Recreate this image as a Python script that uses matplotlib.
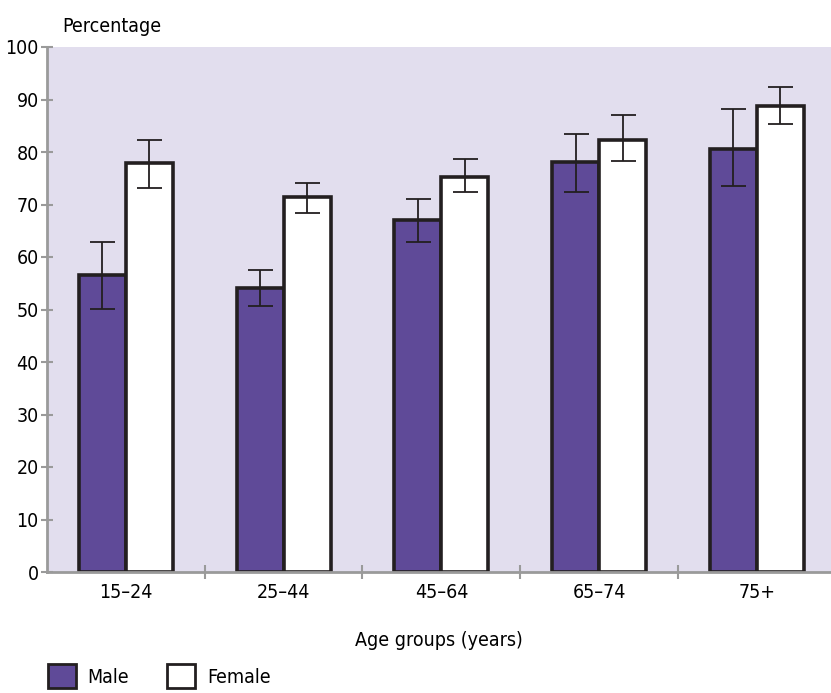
import numpy as np
import matplotlib.pyplot as plt
from matplotlib.patches import Patch

plt.rcParams['font.family'] = ['DejaVu Sans']
plt.rcParams['font.stretch'] = 'condensed'

age_groups = ['15–24', '25–44', '45–64', '65–74', '75+']
male = [56.6, 54.1, 67.0, 78.1, 80.6]
male_low = [50.1, 50.6, 62.9, 72.4, 73.5]
male_high = [62.9, 57.6, 71.0, 83.4, 88.2]
female = [77.9, 71.4, 75.2, 82.3, 88.8]
female_low = [73.1, 68.4, 72.4, 78.3, 85.3]
female_high = [82.3, 74.1, 78.7, 87.0, 92.4]

MALE_COLOR = '#5f4a98'
EDGE = '#231f20'
BG = '#e2deee'
AXIS_GREY = '#9a9a9a'
FS = 14

fig = plt.figure(figsize=(8.31, 6.93), dpi=100)
ax = fig.add_axes([47 / 831, 1 - 572 / 693, 1 - 47 / 831, 525 / 693])
ax.set_facecolor(BG)

x = np.arange(len(age_groups))
w = 0.298

male = np.array(male)
female = np.array(female)
m_err = [male - np.array(male_low), np.array(male_high) - male]
f_err = [female - np.array(female_low), np.array(female_high) - female]

ax.bar(x - w / 2, male, w, color=MALE_COLOR, edgecolor=EDGE, linewidth=2.6, zorder=2)
ax.bar(x + w / 2, female, w, color='white', edgecolor=EDGE, linewidth=2.6, zorder=2)
ax.errorbar(x - w / 2, male, yerr=m_err, fmt='none', ecolor=EDGE, elinewidth=1.3,
            capsize=9, capthick=1.3, zorder=3)
ax.errorbar(x + w / 2, female, yerr=f_err, fmt='none', ecolor=EDGE, elinewidth=1.3,
            capsize=9, capthick=1.3, zorder=3)

ax.set_xlim(-0.5, 4.47)
ax.set_ylim(0, 100)
ax.set_yticks(np.arange(0, 101, 10))
ax.set_xticks(x)
ax.set_xticklabels(age_groups)
ax.set_xticks(x[:-1] + 0.5, minor=True)

for side in ['top', 'right']:
    ax.spines[side].set_visible(False)
for side in ['left', 'bottom']:
    ax.spines[side].set_color(AXIS_GREY)
    ax.spines[side].set_linewidth(2)

ax.tick_params(axis='y', direction='inout', length=8, width=1.5, color=AXIS_GREY,
               labelsize=FS, pad=2)
ax.tick_params(axis='x', which='major', length=0, labelsize=FS, pad=8)
ax.tick_params(axis='x', which='minor', direction='inout', length=10, width=1.5,
               color=AXIS_GREY)

ax.set_xlabel('Age groups (years)', fontsize=FS, labelpad=21)
fig.text(62 / 831, 1 - 26 / 693, 'Percentage', fontsize=FS, va='center', ha='left')

handles = [Patch(facecolor=MALE_COLOR, edgecolor=EDGE, linewidth=2, label='Male'),
           Patch(facecolor='white', edgecolor=EDGE, linewidth=2, label='Female')]
fig.legend(handles=handles, loc='lower left', bbox_to_anchor=(30 / 831, -0.018), ncol=2,
           frameon=False, fontsize=FS, handlelength=1.45, handleheight=1.5,
           handletextpad=0.6, columnspacing=1.95)

fig.savefig('out.png', dpi=100)
